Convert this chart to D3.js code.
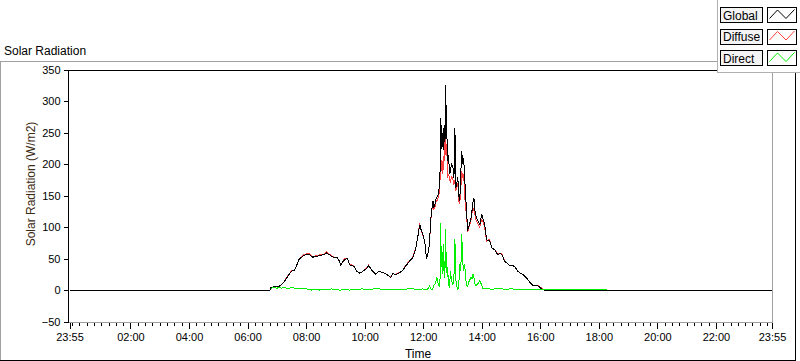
<!DOCTYPE html>
<html>
<head>
<meta charset="utf-8">
<script src="https://cdn.jsdelivr.net/npm/d3@7"></script>
<style>
  body { margin: 0; background: #fff; }
  svg { display: block; font-family: "Liberation Sans", Arial, sans-serif; }
  .crisp { shape-rendering: crispEdges; }
</style>
</head>
<body>
<script>
const times = [
  "23:55", "06:40", "06:46", "06:48", "06:53", "07:00", "07:05", "07:10", "07:15", "07:20",
  "07:25", "07:30", "07:36", "07:40", "07:45", "07:50", "07:55", "08:01", "08:06", "08:11",
  "08:14", "08:18", "08:23", "08:28", "08:33", "08:38", "08:42", "08:48", "08:52", "08:56",
  "09:00", "09:03", "09:07", "09:11", "09:14", "09:17", "09:21", "09:25", "09:29", "09:33",
  "09:38", "09:44", "09:50", "09:55", "10:00", "10:04", "10:08", "10:11", "10:14", "10:18",
  "10:23", "10:29", "10:35", "10:41", "10:47", "10:53", "10:58", "11:04", "11:10", "11:18",
  "11:23", "11:28", "11:33", "11:39", "11:45", "11:49", "11:53", "11:56", "11:59", "12:03",
  "12:07", "12:10", "12:13", "12:15", "12:18", "12:20", "12:22", "12:24", "12:26", "12:28",
  "12:30", "12:32", "12:34", "12:35", "12:36", "12:37", "12:38", "12:39", "12:40", "12:41",
  "12:42", "12:43", "12:44", "12:45", "12:46", "12:47", "12:48", "12:49", "12:50", "12:52",
  "12:54", "12:56", "12:58", "13:01", "13:03", "13:05", "13:07", "13:09", "13:11", "13:13",
  "13:15", "13:17", "13:19", "13:21", "13:23", "13:25", "13:27", "13:29", "13:31", "13:33",
  "13:35", "13:38", "13:40", "13:42", "13:44", "13:46", "13:48", "13:52", "13:56", "14:00",
  "14:02", "14:06", "14:10", "14:13", "14:16", "14:21", "14:27", "14:33", "14:37", "14:41",
  "14:47", "14:53", "14:58", "15:02", "15:08", "15:14", "15:19", "15:24", "15:32", "15:39",
  "15:45", "15:55", "16:01", "16:05", "16:09", "16:30", "17:00", "17:30", "18:16", "18:17", "23:55"];

const globalRad = [
  0, 0, 0, 4, 5, 5, 6, 9, 13, 19,
  25, 30, 31, 38, 48, 52, 55, 57, 57, 54,
  52, 54, 54, 55, 56, 57, 59, 56, 54, 52,
  51, 52, 48, 39, 44, 47, 49, 50, 40, 39,
  38, 30, 27, 29, 32, 34, 39, 36, 32, 29,
  25, 30, 28, 27, 24, 20, 26, 25, 27, 31,
  37, 42, 47, 52, 67, 85, 104, 95, 89, 78,
  49, 60, 73, 110, 130, 142, 132, 136, 145, 147,
  150, 157, 175, 200, 274, 225, 262, 228, 250, 222,
  258, 235, 262, 240, 326, 250, 295, 230, 205, 215,
  184, 190, 200, 195, 178, 258, 163, 170, 179, 150,
  142, 185, 221, 200, 210, 179, 150, 126, 94, 100,
  104, 115, 126, 140, 147, 126, 118, 110, 104, 120,
  115, 104, 80, 78, 79, 67, 64, 56, 58, 57,
  46, 42, 38, 40, 37, 30, 27, 25, 19, 12,
  7, 7, 3, 1, 0, 0, 0, 0, 0, 0, 0];

const diffuseRad = [
  0, 0, 0, 4, 5, 6, 6, 9, 13, 20,
  25, 31, 32, 38, 48, 52, 56, 58, 58, 54,
  52, 54, 55, 56, 56, 58, 61, 57, 54, 53,
  51, 52, 48, 39, 44, 49, 50, 50, 40, 40,
  38, 30, 27, 29, 32, 35, 40, 36, 33, 29,
  25, 30, 28, 27, 24, 21, 26, 25, 28, 31,
  38, 43, 48, 53, 67, 86, 106, 95, 88, 78,
  49, 60, 72, 108, 128, 135, 128, 132, 140, 142,
  145, 150, 165, 185, 213, 200, 190, 205, 185, 195,
  213, 205, 235, 215, 258, 225, 230, 210, 178, 185,
  178, 170, 182, 175, 168, 175, 158, 165, 170, 140,
  138, 160, 190, 178, 185, 150, 130, 120, 92, 98,
  102, 112, 122, 126, 130, 120, 112, 106, 100, 112,
  110, 100, 78, 80, 80, 67, 64, 57, 59, 58,
  46, 42, 38, 40, 37, 30, 27, 25, 19, 12,
  7, 7, 4, 2, 0, 0, 0, 0, 0, 0, 0];

const directRad = [
  null, null, null, 3, 4, 3, 4, 3, 4, 3,
  3, 4, 3, 2, 2, 2, 2, 2, 1, 0,
  1, 1, 1, 0, 1, 1, 1, 1, 2, 1,
  1, 1, 0, 0, 1, 1, 1, 1, 0, 1,
  1, 1, 1, 2, 1, 1, 1, 1, 1, 2,
  2, 2, 1, 1, 1, 1, 1, 1, 1, 1,
  1, 2, 2, 2, 1, 1, 1, 1, 2, 1,
  1, 2, 7, 2, 1, 3, 8, 9, 14, 20,
  12, 7, 5, 30, 107, 40, 52, 25, 60, 30,
  73, 35, 20, 40, 97, 30, 60, 20, 36, 8,
  4, 30, 15, 9, 20, 81, 15, 5, 0, 10,
  41, 30, 89, 45, 30, 41, 20, 7, 6, 12,
  15, 20, 18, 25, 20, 10, 7, 10, 15, 8,
  3, 2, 2, 2, 2, 1, 2, 2, 2, 2,
  1, 1, 2, 2, 1, 1, 1, 1, 1, 1,
  1, 1, 1, 1.5, 1.5, 1.5, 1.5, 1.5, 1.5, null, null];

const seriesNames = ["Global", "Diffuse", "Direct"];
const seriesColors = ["#000000", "#ff4040", "#00ee00"];

const xTickTimes = ["23:55", "02:00", "04:00", "06:00", "08:00", "10:00", "12:00",
  "14:00", "16:00", "18:00", "20:00", "22:00", "23:55"];
const yTicks = [-50, 0, 50, 100, 150, 200, 250, 300, 350];

// "HH:MM" strings -> dates; a time earlier than the one before rolls to the next day
const parseHM = d3.timeParse("%H:%M");
function toDates(list) {
  let day = 0, prev = null;
  return list.map(s => {
    const t = parseHM(s);
    if (prev !== null && t < prev) day++;
    prev = t;
    return d3.timeDay.offset(t, day);
  });
}

const dates = toDates(times);
const tickDates = toDates(xTickTimes);

const width = 800, height = 361;
const plotLeft = 69.5, plotRight = 772, plotTop = 70, plotBottom = 321.5;

const svg = d3.select("body").append("svg")
  .attr("width", width)
  .attr("height", height);

const x = d3.scaleTime()
  .domain([tickDates[0], tickDates[tickDates.length - 1]])
  .range([plotLeft, plotRight]);

const y = d3.scaleLinear()
  .domain([yTicks[0], yTicks[yTicks.length - 1]])
  .range([plotBottom, plotTop]);

// outer panel
svg.append("path").attr("class", "crisp")
  .attr("d", "M0.5,360.5 V61.5 H717")
  .attr("fill", "none").attr("stroke", "#a0a0a0");
svg.append("path").attr("class", "crisp")
  .attr("d", "M0,360.5 H795.5 V72")
  .attr("fill", "none").attr("stroke", "#000");

// title
svg.append("text")
  .attr("x", 4).attr("y", 55)
  .attr("font-size", 12)
  .text("Solar Radiation");

// plot frame
svg.append("path").attr("class", "crisp")
  .attr("d", `M${plotRight + 0.5},${plotTop} V${plotBottom + 0.5} H68`)
  .attr("fill", "none").attr("stroke", "#a0a0a0");
svg.append("path").attr("class", "crisp")
  .attr("d", `M68.5,${plotBottom + 0.5} V${plotTop + 0.5} H${plotRight}`)
  .attr("fill", "none").attr("stroke", "#000");

// y axis
const yAxis = svg.append("g")
  .attr("transform", "translate(68.5,0)")
  .call(d3.axisLeft(y).tickValues(yTicks).tickSize(5).tickPadding(3).tickSizeOuter(0));
yAxis.select(".domain").remove();
yAxis.selectAll("line").attr("class", "crisp").attr("stroke", "#000");
yAxis.selectAll("text").attr("font-size", 11).attr("font-family", "Liberation Sans, Arial, sans-serif").attr("fill", "#000");

// x axis: minor ticks then major ticks with labels
const minorDates = d3.timeMinute.every(15).range(d3.timeDay.floor(tickDates[1]), tickDates[tickDates.length - 1]);
const xMinor = svg.append("g")
  .attr("transform", `translate(0,${plotBottom + 1})`)
  .call(d3.axisBottom(x).tickValues(minorDates).tickSize(3).tickFormat("").tickSizeOuter(0));
xMinor.select(".domain").remove();
xMinor.selectAll("line").attr("class", "crisp").attr("stroke", "#000");

const xAxis = svg.append("g")
  .attr("transform", `translate(0,${plotBottom + 1})`)
  .call(d3.axisBottom(x).tickValues(tickDates).tickSize(6).tickPadding(5)
    .tickFormat(d3.timeFormat("%H:%M")).tickSizeOuter(0));
xAxis.select(".domain").remove();
xAxis.selectAll("line").attr("class", "crisp").attr("stroke", "#000");
xAxis.selectAll("text").attr("font-size", 11).attr("font-family", "Liberation Sans, Arial, sans-serif").attr("fill", "#000");

// axis titles
svg.append("text")
  .attr("x", 418).attr("y", 358)
  .attr("text-anchor", "middle")
  .attr("font-size", 12)
  .text("Time");
svg.append("text")
  .attr("transform", "translate(35,184) rotate(-90)")
  .attr("text-anchor", "middle")
  .attr("font-size", 12)
  .attr("fill", "#3b2a14")
  .text("Solar Radiation (W/m2)");

// series
const rows = dates.map((d, i) => ({ t: d, g: globalRad[i], df: diffuseRad[i], dr: directRad[i] }));
const plot = svg.append("g");
const drawLine = (key, color) => {
  plot.append("path")
    .attr("class", "crisp")
    .attr("fill", "none")
    .attr("stroke", color)
    .attr("stroke-width", 1)
    .attr("d", d3.line()
      .defined(d => d[key] !== null)
      .x(d => x(d.t))
      .y(d => y(d[key]))(rows));
};
drawLine("df", seriesColors[1]);
drawLine("g", seriesColors[0]);
drawLine("dr", seriesColors[2]);

// legend
const legend = svg.append("g");
legend.append("rect").attr("class", "crisp")
  .attr("x", 717.5).attr("y", -1).attr("width", 90).attr("height", 73.5)
  .attr("fill", "#fff").attr("stroke", "#b0b0b0");
const iconLine = d3.line();
seriesNames.forEach((name, i) => {
  const y0 = 7.5 + i * 21.5;
  legend.append("rect").attr("class", "crisp")
    .attr("x", 720.5).attr("y", y0).attr("width", 42).attr("height", 15)
    .attr("fill", "#f4f4f4").attr("stroke", "#000");
  legend.append("text")
    .attr("x", 723).attr("y", y0 + 12)
    .attr("font-size", 12)
    .text(name);
  legend.append("rect").attr("class", "crisp")
    .attr("x", 767.5).attr("y", y0).attr("width", 29).attr("height", 15)
    .attr("fill", "#fff").attr("stroke", "#000");
  legend.append("path")
    .attr("fill", "none")
    .attr("stroke", seriesColors[i])
    .attr("d", iconLine([[769.5, y0 + 11], [777.5, y0 + 2.5], [786, y0 + 11], [794.5, y0 + 2]]));
});
</script>
</body>
</html>
